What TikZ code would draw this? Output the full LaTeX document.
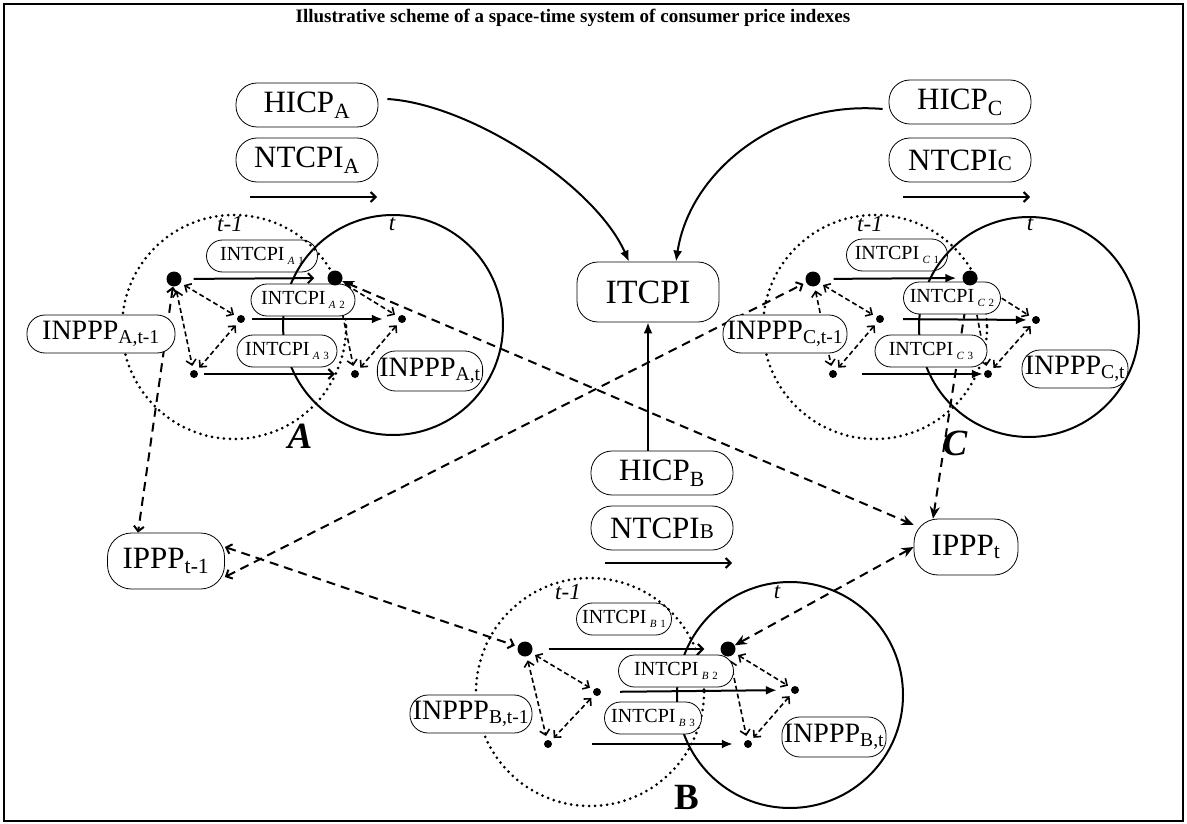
\documentclass[tikz,border=0pt]{standalone}
\usepackage{fontspec}
\setmainfont{Liberation Serif}
\usetikzlibrary{arrows.meta,backgrounds}
\newcommand\tcpisub[2]{\,\raisebox{-4pt}{\fontsize{11}{11}\selectfont\textit{#1}\,\,#2}}

\begin{document}
\begin{tikzpicture}[x=1pt,y=1pt,yscale=-1,
  >={Straight Barb[length=5pt,width=10pt]},
  idxbox/.style={draw,fill=white,line width=0.8pt,rounded corners=21pt,minimum width=142pt,minimum height=44pt,inner sep=2pt,font=\fontsize{31}{32}\selectfont},
  natbox/.style={draw,fill=white,line width=0.8pt,rounded corners=18pt,minimum height=38pt,inner sep=2pt,font=\fontsize{28}{29}\selectfont},
  subbox/.style={draw,fill=white,line width=0.8pt,rounded corners=16pt,minimum height=32pt,inner sep=2pt,font=\fontsize{20}{21}\selectfont},
  bigdot/.style={circle,fill,inner sep=0pt,minimum size=15pt},
  smalldot/.style={circle,fill,inner sep=0pt,minimum size=8pt},
  timelbl/.style={font=\fontsize{23}{24}\selectfont\itshape},
  regionlbl/.style={font=\fontsize{37}{38}\selectfont\bfseries},
  prevcircle/.style={line width=3pt,line cap=round,dash pattern=on 0pt off 6pt},
  currcircle/.style={line width=2pt},
  flow/.style={line width=2pt},
  link/.style={line width=1.6pt,dash pattern=on 5pt off 3pt,shorten <=4pt,shorten >=4pt},
  cross/.style={line width=2pt,dash pattern=on 9pt off 6pt},
  fulltip/.style={-{Latex[length=11pt,width=9pt]}},
  stealthboth/.style={{Stealth[length=12pt,width=10pt]}-{Stealth[length=12pt,width=10pt]}},
]
\useasboundingbox (0,0) rectangle (1187,824);

% Text Node
\node[font=\fontsize{19}{21}\selectfont\bfseries] (title) at (573,18) {Illustrative scheme of a space-time system of consumer price indexes};

% national indexes
\node[idxbox] (hicpA) at (307,105) {HICP\textsubscript{A}};
\node[idxbox] (ntcpiA) at (307,160) {NTCPI\textsubscript{A}};
\node[idxbox] (hicpC) at (960,102) {HICP\textsubscript{C}};
\node[idxbox] (ntcpiC) at (960,160) {NTCPI{\fontsize{21}{21}\selectfont C}};
\node[idxbox] (hicpB) at (662,473) {HICP\textsubscript{B}};
\node[idxbox] (ntcpiB) at (662,528) {NTCPI{\fontsize{21}{21}\selectfont B}};
\node[idxbox,minimum height=60pt,font=\fontsize{34}{36}\selectfont] (itcpi) at (648,292) {ITCPI\hspace{22pt}};

% international parities
\node[idxbox,minimum width=117pt,minimum height=56pt,rounded corners=24pt] (ipppP) at (166,561) {IPPP\textsubscript{t-1}};
\node[idxbox,minimum width=104pt,minimum height=56pt,rounded corners=24pt] (ipppT) at (966,547) {IPPP\textsubscript{t}};

% national parities
\node[natbox,minimum width=148pt] (inpAp) at (101,334) {INPPP\textsubscript{A,t-1}};
\node[natbox,minimum width=98pt,minimum height=40pt] (inpAt) at (430,371) {INPPP\textsubscript{A,t}};
\node[natbox,minimum width=124pt] (inpCp) at (785,334) {INPPP\textsubscript{C,t-1}};
\node[natbox,minimum width=106pt] (inpCt) at (1075,369) {INPPP\textsubscript{C,t}};
\node[natbox,minimum width=122pt] (inpBp) at (471,714) {INPPP\textsubscript{B,t-1}};
\node[natbox,minimum width=104pt,minimum height=40pt] (inpBt) at (834,737) {INPPP\textsubscript{B,t}};

% intertemporal indexes
\node[subbox,minimum width=104pt] (ntA2) at (303,300) {INTCPI\tcpisub{A}{2}};
\node[subbox,minimum width=100pt] (ntA3) at (287,351) {INTCPI\tcpisub{A}{3}};
\node[subbox,minimum width=97pt] (ntC2) at (952,298) {INTCPI\tcpisub{C}{2}};
\node[subbox,minimum width=112pt] (ntC3) at (931,351) {INTCPI\tcpisub{C}{3}};
\node[subbox,minimum width=115pt] (ntB2) at (676,671) {INTCPI\tcpisub{B}{2}};
\node[subbox,minimum width=97pt] (ntB3) at (653,718) {INTCPI\tcpisub{B}{3}};

% dots of country A
\node[bigdot] (Ap1) at (174,279) {};
\node[smalldot] (Ap2) at (241,319) {};
\node[smalldot] (Ap3) at (194,374) {};
\node[bigdot] (At1) at (335,278) {};
\node[smalldot] (At2) at (402,319) {};
\node[smalldot] (At3) at (355,374) {};
% dots of country C
\node[bigdot] (Cp1) at (813,279) {};
\node[smalldot] (Cp2) at (880,319) {};
\node[smalldot] (Cp3) at (833,374) {};
\node[bigdot] (Ct1) at (970,278) {};
\node[smalldot] (Ct2) at (1036,320) {};
\node[smalldot] (Ct3) at (988,374) {};
% dots of country B
\node[bigdot] (Bp1) at (525,649) {};
\node[smalldot] (Bp2) at (597,692) {};
\node[smalldot] (Bp3) at (548,744) {};
\node[bigdot] (Bt1) at (728,649) {};
\node[smalldot] (Bt2) at (795,690) {};
\node[smalldot] (Bt3) at (748,744) {};

% time and country labels
\node[timelbl] (tpA) at (230,224) {t-1};
\node[timelbl] (ttA) at (392,224) {t};
\node[timelbl] (tpC) at (870,224) {t-1};
\node[timelbl] (ttC) at (1030,224) {t};
\node[timelbl] (tpB) at (568,592) {t-1};
\node[timelbl] (ttB) at (777,592) {t};
\node[regionlbl,font=\fontsize{37}{38}\selectfont\bfseries\itshape] (lblA) at (300,436) {A};
\node[regionlbl,font=\fontsize{37}{38}\selectfont\bfseries\itshape] (lblC) at (955,443) {C};
\node[regionlbl] (lblB) at (687,797) {B};

\coordinate (gA0) at (250,197); \coordinate (gA1) at (377,197);
\coordinate (gC0) at (903,197); \coordinate (gC1) at (1030,197);
\coordinate (gB0) at (605,563); \coordinate (gB1) at (732,563);

\begin{scope}[on background layer]
\draw[line width=1.5pt] (4,4) rectangle (1183,821);
% first intertemporal indexes, under the circles
\node[subbox,minimum width=111pt] (ntA1) at (262,256) {INTCPI\tcpisub{A}{1}};
\node[subbox,minimum width=101pt] (ntC1) at (897,255) {INTCPI\tcpisub{C}{1}};
\node[subbox,minimum width=95pt] (ntB1) at (624,619) {INTCPI\tcpisub{B}{1}};

% periods
\draw[prevcircle] (234,327) circle (112);
\draw[currcircle] (393,325) circle (110);
\draw[prevcircle] (875,327) circle (112);
\draw[currcircle] (1029,327) circle (110);
\draw[prevcircle] (590,692) circle (114);
\draw[currcircle] (790,695) circle (113);

% aggregation towards ITCPI
\draw[flow,fulltip] ([xshift=9pt,yshift=-6pt]hicpA.east) .. controls (470,104) and (595,185) .. ([xshift=-19pt]itcpi.north);
\draw[flow,fulltip] ([xshift=-6pt,yshift=7pt]hicpC.west) .. controls (780,100) and (690,170) .. ([xshift=28pt]itcpi.north);
\draw[flow,fulltip] ([xshift=-14pt]hicpB.north) -- (itcpi.south);
\draw[flow,->] (gA0) -- (gA1);
\draw[flow,->] (gC0) -- (gC1);
\draw[flow,->] (gB0) -- (gB1);

% time links
\draw[flow,->,shorten <=12pt,shorten >=13pt] (Ap1) -- (At1);
\draw[flow,fulltip,shorten <=7pt,shorten >=15pt] (Ap2) -- (At2);
\draw[flow,->,shorten <=6pt,shorten >=16pt] (Ap3) -- (At3);
\draw[flow,fulltip,shorten <=13pt,shorten >=6pt] (Cp1) -- (Ct1);
\draw[flow,fulltip,shorten <=19pt,shorten >=5pt] (Cp2) -- (Ct2);
\draw[flow,fulltip,shorten <=25pt,shorten >=1pt] (Cp3) -- (Ct3);
\draw[flow,->,shorten <=16pt,shorten >=16pt] (Bp1) -- (Bt1);
\draw[flow,fulltip,shorten <=19pt,shorten >=14pt] (Bp2) -- (Bt2);
\draw[flow,fulltip,shorten <=40pt,shorten >=11pt] (Bp3) -- (Bt3);

% space links inside the countries
\draw[link,<->] (Ap1) -- (Ap2);
\draw[link,<->] (Ap2) -- (Ap3);
\draw[link,<->] (Ap1) -- (Ap3);
\draw[link,<->] (At1) -- (At2);
\draw[link,<->] (At2) -- (At3);
\draw[link,<->] (At1) -- (At3);
\draw[link,<->] (Cp1) -- (Cp2);
\draw[link,<->] (Cp2) -- (Cp3);
\draw[link,<->] (Cp1) -- (Cp3);
\draw[link,<->] (Ct1) -- (Ct2);
\draw[link,<->] (Ct2) -- (Ct3);
\draw[link,<->] (Ct1) -- (Ct3);
\draw[link,<->] (Bp1) -- (Bp2);
\draw[link,<->] (Bp2) -- (Bp3);
\draw[link,<->] (Bp1) -- (Bp3);
\draw[link,<->] (Bt1) -- (Bt2);
\draw[link,<->] (Bt2) -- (Bt3);
\draw[link,<->] (Bt1) -- (Bt3);

% links between countries
\draw[cross,<->] (Ap1) -- ([xshift=-28pt]ipppP.north);
\draw[cross,<->,shorten >=3pt] ([yshift=16pt]ipppP.east) -- (Cp1);
\draw[cross,<->,shorten >=3pt] ([yshift=-14pt]ipppP.east) -- (Bp1);
\draw[cross,stealthboth] (At1) -- (ipppT);
\draw[cross,stealthboth] (ipppT.west) -- (Bt1);
\draw[cross,stealthboth] ([xshift=-33pt]ipppT.north) -- (Ct1);
\end{scope}

\end{tikzpicture}
\end{document}
